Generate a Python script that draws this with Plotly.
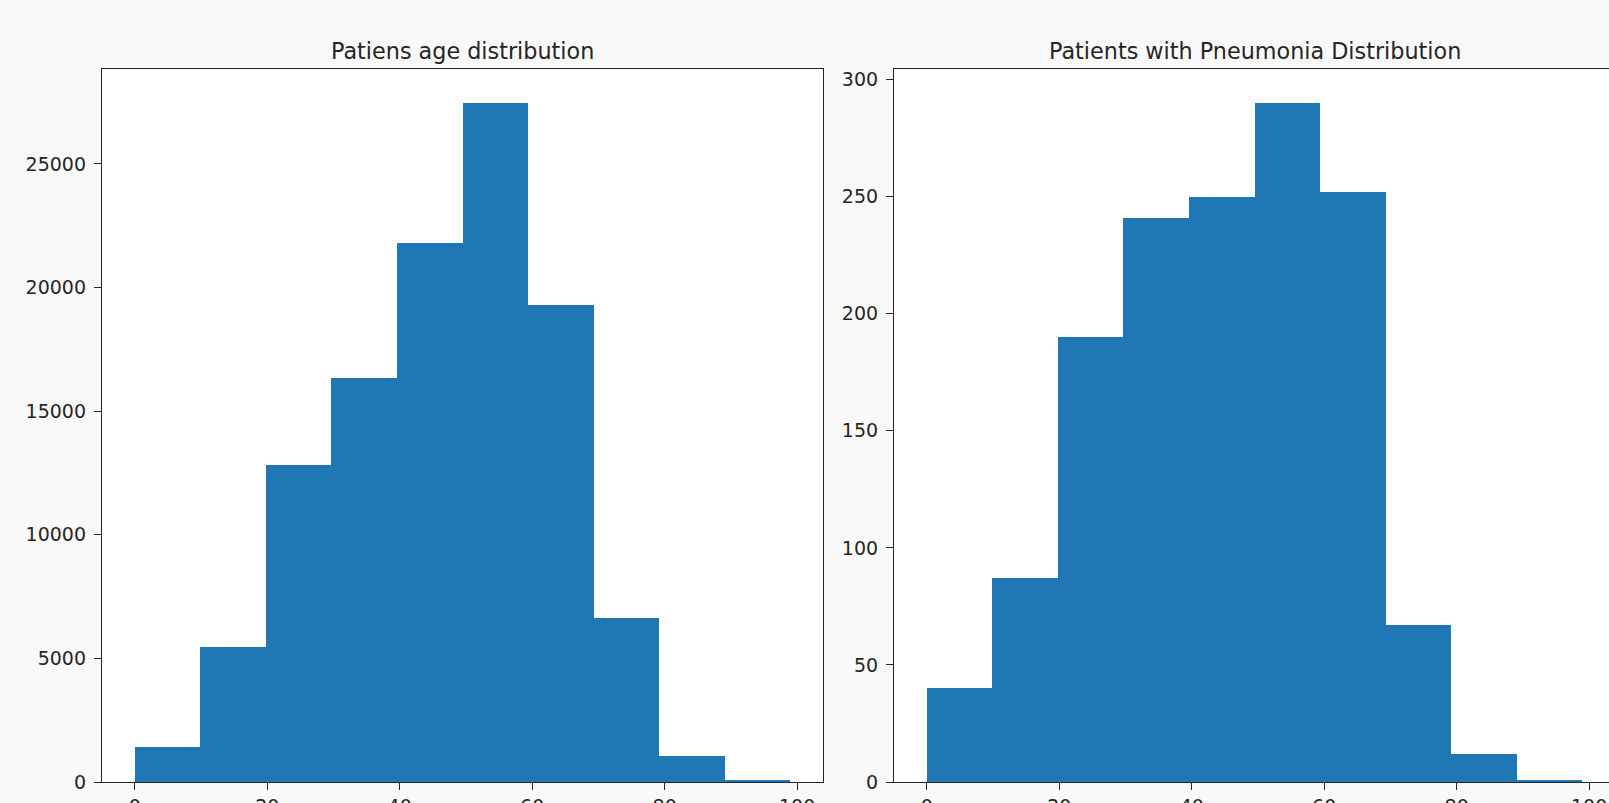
import plotly.graph_objects as go

# ---- data ----
bin_edges = [0, 9.9, 19.8, 29.7, 39.6, 49.5, 59.4, 69.3, 79.2, 89.1, 99.0]
age_counts = [1422, 5447, 12826, 16354, 21785, 27467, 19296, 6647, 1051, 90]
pneumonia_counts = [40, 87, 190, 241, 250, 290, 252, 67, 12, 1]
titles = ["Patiens age distribution", "Patients with Pneumonia Distribution"]
x_ticks = [0, 20, 40, 60, 80, 100]
y_ticks_left = [0, 5000, 10000, 15000, 20000, 25000]
y_ticks_right = [0, 50, 100, 150, 200, 250, 300]

centers = [(a + b) / 2 for a, b in zip(bin_edges[:-1], bin_edges[1:])]
widths = [b - a for a, b in zip(bin_edges[:-1], bin_edges[1:])]

W, H = 1609, 803
ML, MR, MT, MB = 101.5, 0, 69.0, 20.7
pw = W - ML - MR
AXW = 721.5
left_dom = [0, AXW / pw]
R_LEFT = 893.8
right_dom = [(R_LEFT - ML) / pw, 1.0]

BAR = "#1f77b4"
TXT = "#262626"
LINE = "#262626"
FONT = "DejaVu Sans"

fig = go.Figure()
fig.add_trace(go.Bar(x=centers, y=age_counts, width=widths, marker=dict(color=BAR, line=dict(width=0)),
                     xaxis="x", yaxis="y", showlegend=False, hoverinfo="skip"))
fig.add_trace(go.Bar(x=centers, y=pneumonia_counts, width=widths, marker=dict(color=BAR, line=dict(width=0)),
                     xaxis="x2", yaxis="y2", showlegend=False, hoverinfo="skip"))

span = bin_edges[-1] - bin_edges[0]
xlo = bin_edges[0] - 0.05 * span
xhi = bin_edges[-1] + 0.05 * span
# right panel is cut at the page edge: the full axis has the same width as the left one
right_vis_px = W - R_LEFT
xhi_right = xlo + (xhi - xlo) * right_vis_px / AXW

axis_common = dict(showgrid=False, zeroline=False, showline=True, linecolor=LINE, linewidth=1.3,
                   ticks="outside", ticklen=7, tickwidth=1.3, tickcolor=LINE, automargin=False,
                   tickfont=dict(family=FONT, size=19, color=TXT))

fig.update_layout(
    width=W, height=H,
    margin=dict(l=ML, r=MR, t=MT, b=MB, pad=0, autoexpand=False),
    paper_bgcolor="#f9f9f9", plot_bgcolor="#ffffff",
    bargap=0,
    xaxis=dict(domain=left_dom, range=[xlo, xhi], tickvals=x_ticks, mirror=True, anchor="y", **axis_common),
    yaxis=dict(domain=[0, 1], range=[0, max(age_counts) * 1.05], tickvals=y_ticks_left, tickformat="d",
               mirror=True, anchor="x", ticklabelstandoff=4, **axis_common),
    xaxis2=dict(domain=right_dom, range=[xlo, xhi_right], tickvals=x_ticks, mirror=True, anchor="y2", **axis_common),
    yaxis2=dict(domain=[0, 1], range=[0, max(pneumonia_counts) * 1.05], tickvals=y_ticks_right, tickformat="d",
                mirror=False, anchor="x2", ticklabelstandoff=4, **axis_common),
    annotations=[
        dict(text=titles[0], xref="paper", yref="paper", x=(left_dom[0] + left_dom[1]) / 2, y=1,
             xanchor="center", yanchor="bottom", yshift=3, showarrow=False,
             font=dict(family=FONT, size=22.3, color=TXT)),
        dict(text=titles[1], xref="paper", yref="paper",
             x=(R_LEFT + AXW / 2 - ML) / pw, y=1,
             xanchor="center", yanchor="bottom", yshift=3, showarrow=False,
             font=dict(family=FONT, size=22.3, color=TXT)),
    ],
)

fig.write_html(
    "out.html",
    config={"displayModeBar": False},
    post_script="document.body.style.margin='0';document.body.style.background='#f9f9f9';",
)
